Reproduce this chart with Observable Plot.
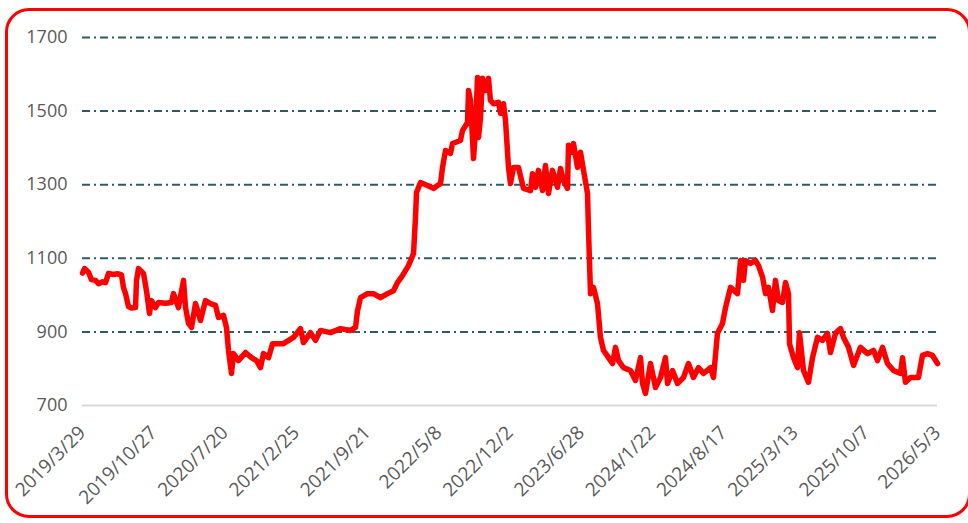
<!DOCTYPE html>
<html>
<head>
<meta charset="utf-8">
<script src="https://cdn.jsdelivr.net/npm/d3@7"></script>
<script src="https://cdn.jsdelivr.net/npm/@observablehq/plot@0.6"></script>
<style>
  html, body { margin: 0; padding: 0; background: #fff; }
  #wrap { position: relative; width: 968px; height: 523px; overflow: hidden; }
  #frame { position: absolute; left: 5px; top: 8px; width: 966px; height: 510px;
           border: 3px solid #ff0000; border-radius: 24px; box-sizing: border-box; }
  #chart { position: absolute; left: 0; top: 0; }
</style>
</head>
<body>
<div id="wrap"><div id="frame"></div><div id="chart"></div></div>
<script>
// Tick labels (category axis, evenly spaced)
const tickLabels = ["2019/3/29","2019/10/27","2020/7/20","2021/2/25","2021/9/21","2022/5/8","2022/12/2","2023/6/28","2024/1/22","2024/8/17","2025/3/13","2025/10/7","2026/5/3"];
// Position of each observation, in label intervals (0 = first label, 12 = last)
const xPos = [0,0.028,0.084,0.126,0.182,0.225,0.281,0.323,0.365,0.435,0.491,0.547,0.575,0.604,0.646,0.688,0.744,0.758,0.786,0.856,0.898,0.940,0.968,1.025,1.067,1.165,1.249,1.277,1.347,1.418,1.446,1.488,1.530,1.586,1.656,1.726,1.796,1.867,1.909,1.979,2.021,2.049,2.091,2.119,2.189,2.288,2.372,2.442,2.498,2.540,2.611,2.667,2.821,2.961,3.060,3.102,3.200,3.270,3.340,3.481,3.621,3.761,3.832,3.860,3.902,4.000,4.084,4.182,4.281,4.365,4.421,4.491,4.575,4.646,4.674,4.688,4.744,4.842,4.926,5.025,5.053,5.095,5.165,5.193,5.305,5.333,5.404,5.418,5.446,5.488,5.516,5.544,5.558,5.586,5.614,5.656,5.698,5.726,5.768,5.839,5.867,5.909,5.937,5.979,6.007,6.049,6.119,6.189,6.288,6.316,6.358,6.400,6.456,6.498,6.540,6.596,6.667,6.709,6.751,6.807,6.821,6.877,6.891,6.947,6.989,7.032,7.088,7.102,7.130,7.172,7.228,7.270,7.312,7.382,7.439,7.481,7.523,7.593,7.691,7.761,7.832,7.860,7.902,7.972,8.042,8.112,8.182,8.211,8.281,8.351,8.435,8.505,8.575,8.646,8.716,8.814,8.856,8.912,8.982,9.025,9.095,9.193,9.235,9.277,9.305,9.375,9.446,9.488,9.544,9.586,9.628,9.684,9.726,9.768,9.825,9.867,9.909,9.923,9.979,10.035,10.063,10.119,10.189,10.246,10.316,10.386,10.456,10.498,10.568,10.639,10.681,10.751,10.821,10.919,11.018,11.102,11.158,11.228,11.298,11.382,11.481,11.509,11.551,11.621,11.733,11.789,11.860,11.930,12.000];
// Price values
const price = [1060,1072,1062,1042,1040,1031,1036,1034,1059,1056,1058,1055,1021,1004,969,965,966,1040,1072,1059,1012,950,985,966,980,978,980,1004,966,1040,966,923,912,977,931,985,977,972,939,945,912,850,787,841,822,844,830,822,803,841,830,868,868,885,909,871,898,877,904,898,909,904,912,958,993,1004,1004,993,1004,1012,1034,1053,1080,1113,1211,1279,1306,1298,1290,1303,1347,1393,1385,1412,1420,1447,1469,1556,1529,1371,1447,1591,1428,1482,1589,1556,1589,1529,1520,1524,1494,1520,1475,1347,1303,1347,1347,1290,1284,1330,1293,1339,1284,1352,1276,1339,1293,1344,1311,1290,1407,1388,1412,1347,1388,1339,1276,1176,1004,1021,977,885,850,830,814,858,822,803,795,768,830,760,733,814,749,776,830,760,795,760,776,814,776,803,787,803,776,896,923,966,1021,1004,1094,1040,1094,1086,1094,1080,1049,1004,1021,958,1040,985,980,1034,1004,868,830,803,898,795,763,830,885,877,896,844,896,909,885,858,809,858,841,850,822,858,814,795,787,830,763,776,776,836,841,836,814];
const yTicks = [700, 900, 1100, 1300, 1500, 1700];
const gridValues = [900, 1100, 1300, 1500, 1700];

const data = xPos.map((x, i) => ({x, v: price[i]}));
const tickIdx = tickLabels.map((_, i) => i);

const chart = Plot.plot({
  width: 968,
  height: 523,
  marginLeft: 82,
  marginRight: 31,
  marginTop: 37,
  marginBottom: 118,
  style: {fontFamily: "'Open Sans', sans-serif", fontSize: "18px", color: "#595959", background: "transparent"},
  x: {type: "linear", domain: [0, 12]},
  y: {domain: [700, 1700]},
  marks: [
    Plot.ruleY(gridValues, {stroke: "#2f5b66", strokeWidth: 2, strokeDasharray: "8,4,2,4"}),
    Plot.ruleY([700], {stroke: "#d9d9d9", strokeWidth: 2}),
    Plot.axisY(yTicks, {tickSize: 0, tickPadding: 15, tickFormat: d => String(d), fill: "#595959", fontSize: 18, label: null}),
    Plot.axisX(tickIdx, {tickSize: 0, tickPadding: 24, tickRotate: -45, tickFormat: i => tickLabels[i], fill: "#595959", fontSize: 19, label: null}),
    Plot.line(data, {x: "x", y: "v", stroke: "#ff0000", strokeWidth: 5.5, strokeLinejoin: "round", strokeLinecap: "round"})
  ]
});
document.getElementById("chart").appendChild(chart);
</script>
</body>
</html>
